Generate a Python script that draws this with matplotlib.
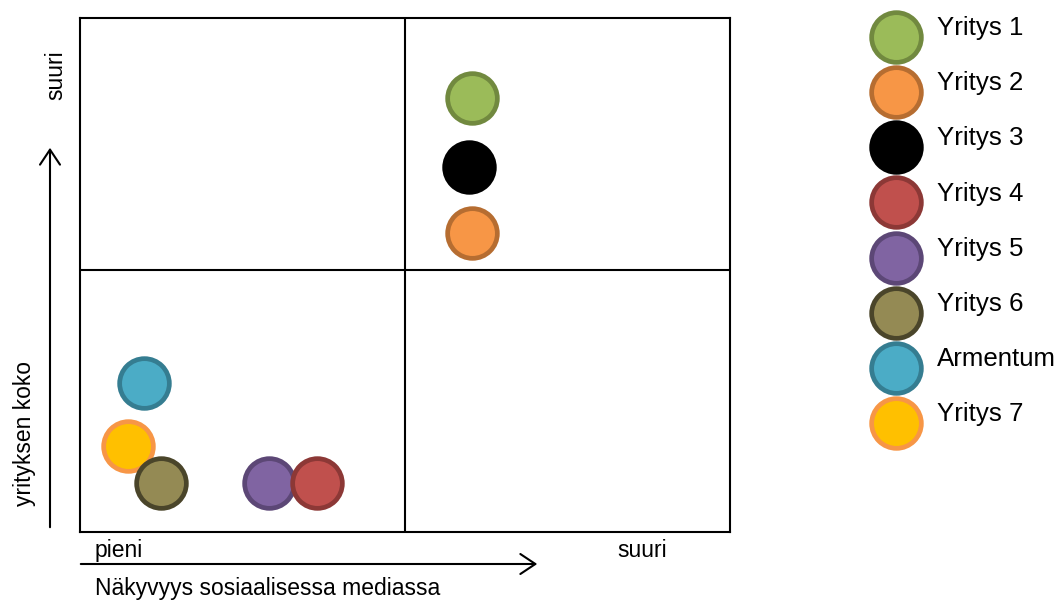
import matplotlib
matplotlib.use("Agg")
import matplotlib.pyplot as plt
from matplotlib.patches import FancyArrowPatch

plt.rcParams['font.family'] = ['Liberation Sans', 'DejaVu Sans']

# yritykset (legendan järjestys)
names = ["Yritys 1", "Yritys 2", "Yritys 3", "Yritys 4", "Yritys 5",
         "Yritys 6", "Armentum", "Yritys 7"]
# näkyvyys sosiaalisessa mediassa (0-10) ja yrityksen koko (0-10)
visibility = [6.03, 6.03, 5.98, 3.65, 2.91, 1.25, 0.98, 0.74]
size = [8.44, 5.81, 7.10, 0.95, 0.95, 0.95, 2.90, 1.67]
fills = ["#9BBB59", "#F79646", "#000000", "#C0504D", "#8064A2",
         "#948A54", "#4BACC6", "#FFC000"]
edges = ["#71893F", "#B66D31", "#000000", "#8C3836", "#5C4776",
         "#4A452A", "#357D91", "#F79646"]

W, H = 1062, 601
fig = plt.figure(figsize=(W / 100, H / 100), dpi=100)

# nelikenttä
ax = fig.add_axes([80 / W, 1 - 532 / H, 650 / W, 514 / H])
ax.set_xlim(0, 10)
ax.set_ylim(0, 10)
ax.set_xticks([])
ax.set_yticks([])
for sp in ax.spines.values():
    sp.set_linewidth(1.5)
ax.axvline(5, color="black", lw=1.5, zorder=1)
ax.axhline(5.1, color="black", lw=1.5, zorder=1)

ms = 1280
ew = 3.4
# piirretään käänteisessä järjestyksessä, jotta päällekkäisyys menee oikein
for i in reversed(range(len(names))):
    ax.scatter(visibility[i], size[i], s=ms, c=fills[i], edgecolors=edges[i],
               linewidths=ew, zorder=3, clip_on=False)

# selite omaan akseliinsa
lax = fig.add_axes([860 / W, 1 - 450.5 / H, 202 / W, 441 / H])
lax.set_xlim(0, 202)
lax.set_ylim(len(names) - 0.5, -0.5)
lax.axis("off")
for i, nm in enumerate(names):
    lax.scatter(36, i, s=ms, c=fills[i], edgecolors=edges[i], linewidths=ew,
                clip_on=False)
    lax.text(77, i - 0.16, nm, fontsize=18.6, va="center", ha="left")

# akselien tekstit
fs = 16.5
fig.text(95 / W, 1 - 557 / H, "pieni", fontsize=fs, ha="left", va="baseline")
fig.text(667 / W, 1 - 557 / H, "suuri", fontsize=fs, ha="right", va="baseline")
fig.text(95 / W, 1 - 595 / H, "Näkyvyys sosiaalisessa mediassa", fontsize=fs,
         ha="left", va="baseline")
fig.text(56 / W, 1 - 75 / H, "suuri", fontsize=fs, rotation=90,
         ha="center", va="center")
fig.text(24 / W, 1 - 434 / H, "yrityksen koko", fontsize=fs, rotation=90,
         ha="center", va="center")

# nuolet
style = "->,head_length=0.54,head_width=0.36"
arr_x = FancyArrowPatch((78 / W, 1 - 564 / H), (540 / W, 1 - 564 / H),
                        transform=fig.transFigure, arrowstyle=style,
                        mutation_scale=20, lw=1.5, color="black")
arr_y = FancyArrowPatch((50 / W, 1 - 530 / H), (50 / W, 1 - 145 / H),
                        transform=fig.transFigure, arrowstyle=style,
                        mutation_scale=20, lw=1.5, color="black")
fig.add_artist(arr_x)
fig.add_artist(arr_y)

fig.savefig("out.png", dpi=100)
